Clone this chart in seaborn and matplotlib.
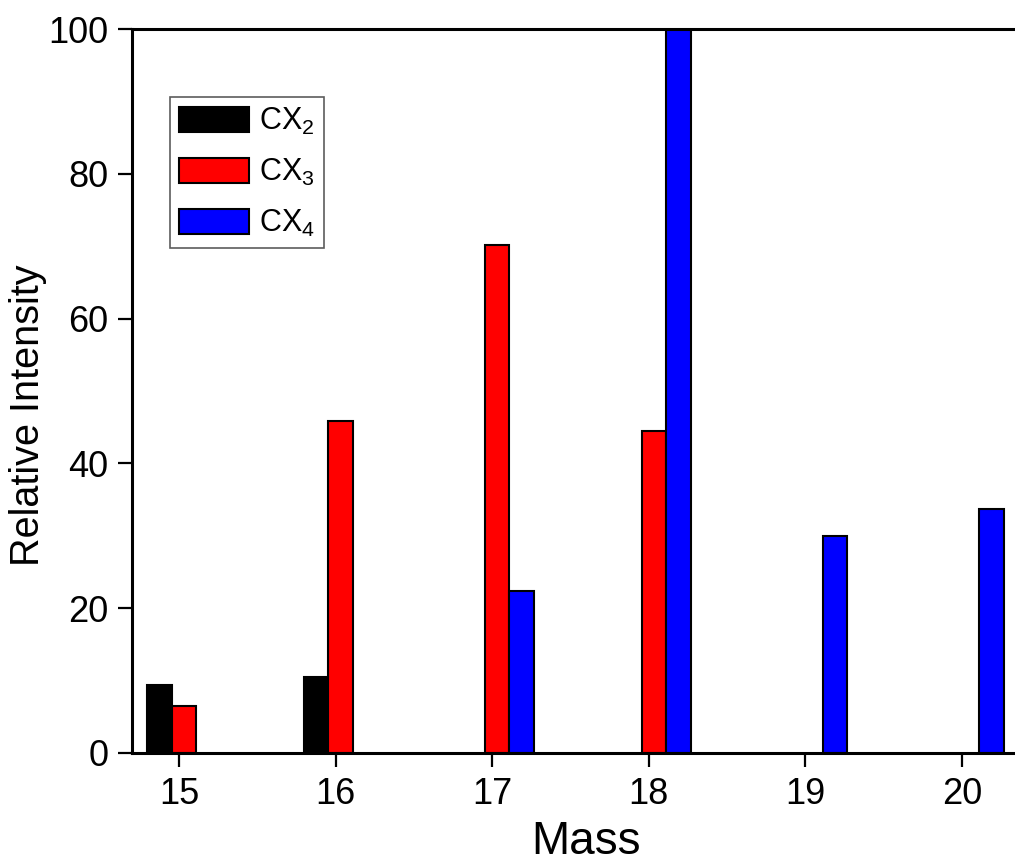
import pandas as pd
import seaborn as sns
import matplotlib.pyplot as plt
import matplotlib.transforms as mtransforms
from matplotlib.patches import Patch

# data (relative intensity per mass)
masses_cx2 = [15, 16]
values_cx2 = [9.4, 10.5]
masses_cx3 = [15, 16, 17, 18]
values_cx3 = [6.5, 45.9, 70.2, 44.5]
masses_cx4 = [17, 18, 19, 20]
values_cx4 = [22.4, 100.0, 30.0, 33.7]
species = ['CX$_2$', 'CX$_3$', 'CX$_4$']
colors = ['#000000', '#ff0000', '#0000ff']

df = pd.concat([
    pd.DataFrame({'Mass': masses_cx2, 'Intensity': values_cx2, 'Species': species[0]}),
    pd.DataFrame({'Mass': masses_cx3, 'Intensity': values_cx3, 'Species': species[1]}),
    pd.DataFrame({'Mass': masses_cx4, 'Intensity': values_cx4, 'Species': species[2]}),
], ignore_index=True)

sns.set_theme(style='ticks')
plt.rcParams['font.family'] = ['Liberation Sans', 'DejaVu Sans']
plt.rcParams['mathtext.default'] = 'regular'
plt.rcParams['text.color'] = 'black'
plt.rcParams['axes.labelcolor'] = 'black'

fig = plt.figure(figsize=(10.15, 8.66), dpi=100)
ax = fig.add_axes([0.130, 0.1305, 0.870, 0.836])

sns.barplot(data=df, x='Mass', y='Intensity', hue='Species', hue_order=species,
            palette=colors, native_scale=True, width=0.47, dodge=True,
            errorbar=None, edgecolor='black', linewidth=1.5, saturation=1,
            legend=False, ax=ax)

# Origin draws the groups a few pixels right of the tick
shift = mtransforms.ScaledTranslation(5 / 100, 0, fig.dpi_scale_trans)
for p in ax.patches:
    p.set_transform(ax.transData + shift)

ax.set_xlim(14.70, 20.338)
ax.set_ylim(0, 100)
ax.set_xticks([15, 16, 17, 18, 19, 20])
ax.set_yticks([0, 20, 40, 60, 80, 100])
ax.set_xlabel('Mass', fontsize=33, labelpad=6)
ax.set_ylabel('Relative Intensity', fontsize=28.5, labelpad=1)
ax.xaxis.label.set_x(0.514)
ax.yaxis.label.set_y(0.467)
ax.tick_params(axis='both', direction='out', length=10, width=1.6,
               labelsize=26, pad=7, color='black', labelcolor='black')

for side in ['left', 'bottom', 'top']:
    ax.spines[side].set_linewidth(2.2)
    ax.spines[side].set_color('black')
ax.spines['right'].set_visible(False)

handles = [Patch(facecolor=c, edgecolor='black', linewidth=1.5) for c in colors]
leg = ax.legend(handles, species, loc='upper left', bbox_to_anchor=(0.043, 0.906),
                borderaxespad=0, fontsize=22, handlelength=2.3, handleheight=0.9,
                labelspacing=0.65, handletextpad=0.3, borderpad=0.3,
                frameon=True, fancybox=False, shadow=False)
leg.get_frame().set_edgecolor('#333333')
leg.get_frame().set_linewidth(1.2)

plt.savefig('out.png', dpi=100)
plt.close()
